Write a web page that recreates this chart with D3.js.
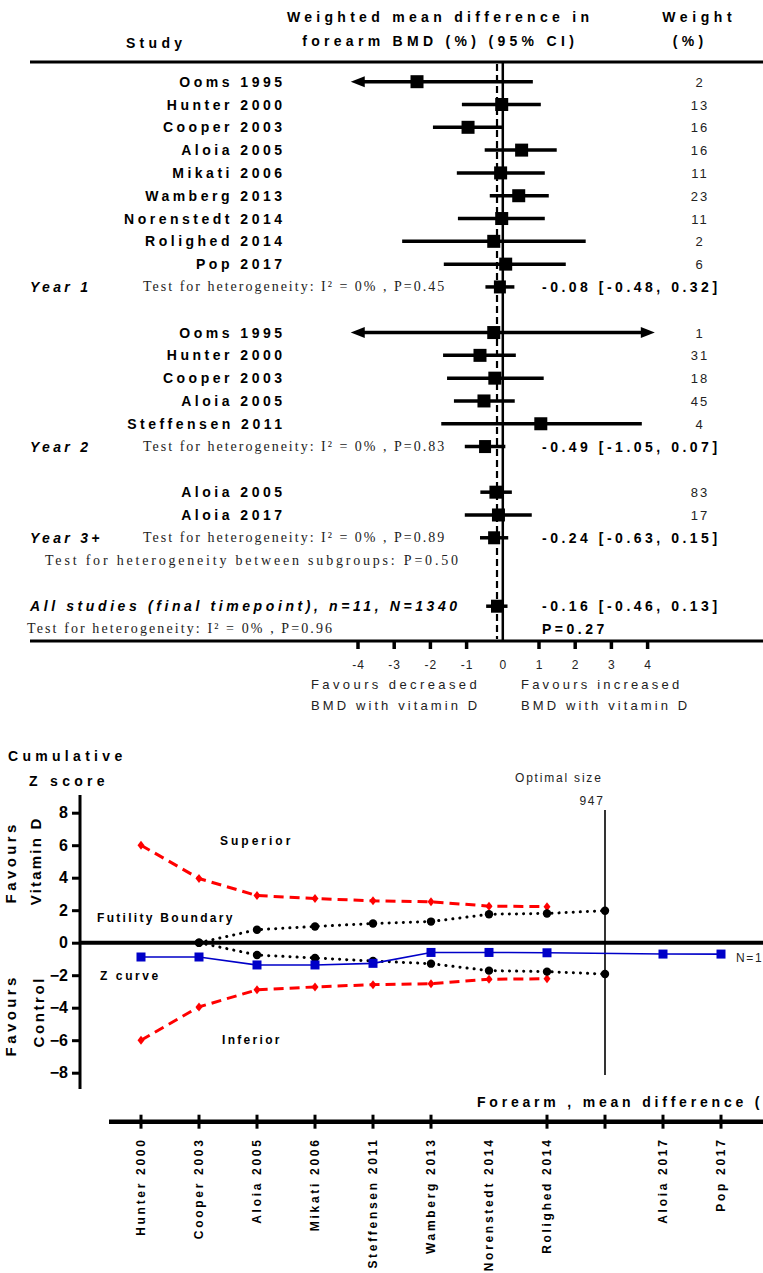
<!DOCTYPE html>
<html>
<head>
<meta charset="utf-8">
<script src="https://cdn.jsdelivr.net/npm/d3@7"></script>
<style>
  body { margin: 0; background: #fff; }
  svg { display: block; }
</style>
</head>
<body>
<script>
// ---------- Forest plot data: forearm BMD weighted mean difference (%) ----------
const studyNames   = ["Ooms 1995", "Hunter 2000", "Cooper 2003", "Aloia 2005", "Mikati 2006",
                      "Wamberg 2013", "Norenstedt 2014", "Rolighed 2014", "Pop 2017",
                      "Ooms 1995", "Hunter 2000", "Cooper 2003", "Aloia 2005", "Steffensen 2011",
                      "Aloia 2005", "Aloia 2017"];
const studyRows    = [0, 1, 2, 3, 4, 5, 6, 7, 8, 11, 12, 13, 14, 15, 18, 19];
const studyMeans   = [-2.37, -0.03, -0.96, 0.52, -0.06, 0.44, -0.03, -0.25, 0.08,
                      -0.25, -0.63, -0.22, -0.52, 1.05, -0.19, -0.12];
const studyLower   = [-6.5, -1.13, -1.93, -0.50, -1.27, -0.36, -1.24, -2.78, -1.63,
                      -6.2, -1.65, -1.54, -1.35, -1.70, -0.62, -1.05];
const studyUpper   = [0.83, 1.05, 0.00, 1.49, 1.16, 1.27, 1.16, 2.29, 1.74,
                      6.4, 0.36, 1.13, 0.33, 3.84, 0.25, 0.80];
const studyWeights = ["2", "13", "16", "16", "11", "23", "11", "2", "6",
                      "1", "31", "18", "45", "4", "83", "17"];

const groupLabels  = ["Year 1", "Year 2", "Year 3+", "All studies (final timepoint), n=11, N=1340"];
const groupRows    = [9, 16, 20, 23];
const groupMeans   = [-0.08, -0.49, -0.24, -0.16];
const groupLower   = [-0.48, -1.05, -0.63, -0.46];
const groupUpper   = [0.32, 0.07, 0.15, 0.13];
const groupHetero  = ["Test for heterogeneity: I\u00B2 = 0% , P=0.45",
                      "Test for heterogeneity: I\u00B2 = 0% , P=0.83",
                      "Test for heterogeneity: I\u00B2 = 0% , P=0.89"];
const subgroupTest = "Test for heterogeneity between subgroups: P=0.50";
const overallTest  = "Test for heterogeneity: I\u00B2 = 0% , P=0.96";
const overallP     = "P=0.27";
const forestTicks  = [-4, -3, -2, -1, 0, 1, 2, 3, 4];

// ---------- Trial sequential analysis data: cumulative Z score ----------
const tsaLabels    = ["Hunter 2000", "Cooper 2003", "Aloia 2005", "Mikati 2006", "Steffensen 2011",
                      "Wamberg 2013", "Norenstedt 2014", "Rolighed 2014", "", "Aloia 2017", "Pop 2017"];
const tsaTicked    = [true, true, true, true, true, true, false, true, true, true, true];
const zCurve       = [-0.88, -0.88, -1.37, -1.37, -1.27, -0.60, -0.60, -0.62, null, -0.70, -0.70];
const upperBound   = [6.0, 3.95, 2.9, 2.72, 2.58, 2.52, 2.25, 2.22];
const lowerBound   = [-6.0, -3.95, -2.9, -2.72, -2.58, -2.52, -2.25, -2.22];
const futilityIdx  = [1, 2, 3, 4, 5, 6, 7, 8];
const futilityUp   = [0, 0.8, 1.0, 1.18, 1.3, 1.75, 1.8, 1.97];
const futilityLow  = [0, -0.76, -0.94, -1.13, -1.29, -1.72, -1.78, -1.93];
const optimalIdx   = 8;
const optimalSize  = "947";
const zTicks       = [-8, -6, -4, -2, 0, 2, 4, 6, 8];

// ---------- Drawing ----------
const W = 763, H = 1273;
const SANS = "'Liberation Sans', Arial, sans-serif";
const SERIF = "'Liberation Serif', 'Times New Roman', serif";

const svg = d3.select("body").append("svg")
  .attr("width", W).attr("height", H)
  .attr("viewBox", `0 0 ${W} ${H}`);
svg.append("rect").attr("width", W).attr("height", H).attr("fill", "#fff");

// text helper that keeps letter-spaced text aligned to its anchor
function label(g, x, y, s, o = {}) {
  const size = o.size || 14, ls = o.ls || 0, anchor = o.anchor || "start";
  let dx = 0;
  if (anchor === "end") dx = ls;
  if (anchor === "middle") dx = ls / 2;
  return g.append("text")
    .attr("x", x + dx).attr("y", y)
    .attr("text-anchor", anchor)
    .attr("font-family", o.family || SANS)
    .attr("font-size", size)
    .attr("font-weight", o.weight || "normal")
    .attr("font-style", o.style || "normal")
    .attr("letter-spacing", ls)
    .attr("fill", o.fill || "#000")
    .text(s);
}

// ===== Forest plot =====
const fp = svg.append("g");
const fx = d3.scaleLinear().domain([-4, 4]).range([358, 647.6]);
const fy = d3.scaleLinear().domain([0, 24]).range([81.7, 629]);
const clipLo = -4.2, clipHi = 4.2;
const topLineY = 62, bottomLineY = 641;

// headers
label(fp, 438, 22, "Weighted mean difference in", {weight: "bold", ls: 4.3, anchor: "middle"});
label(fp, 438, 46, "forearm BMD (%)  (95% CI)", {weight: "bold", ls: 4.3, anchor: "middle"});
label(fp, 154, 48, "Study", {weight: "bold", ls: 4.3, anchor: "middle"});
label(fp, 697, 22, "Weight", {weight: "bold", ls: 4.6, anchor: "middle"});
label(fp, 688, 46, "(%)", {weight: "bold", ls: 4.3, anchor: "middle"});

// frame lines
fp.append("line").attr("x1", 30).attr("x2", W).attr("y1", topLineY).attr("y2", topLineY)
  .attr("stroke", "#000").attr("stroke-width", 3);
fp.append("line").attr("x1", 30).attr("x2", W).attr("y1", bottomLineY).attr("y2", bottomLineY)
  .attr("stroke", "#000").attr("stroke-width", 3);

// line of no effect and overall estimate
fp.append("line").attr("x1", fx(0)).attr("x2", fx(0)).attr("y1", topLineY).attr("y2", bottomLineY)
  .attr("stroke", "#000").attr("stroke-width", 2.5);
fp.append("line").attr("x1", fx(groupMeans[3])).attr("x2", fx(groupMeans[3]))
  .attr("y1", topLineY + 2).attr("y2", bottomLineY - 2)
  .attr("stroke", "#000").attr("stroke-width", 2.2).attr("stroke-dasharray", "7,4");

// axis ticks (no tick at zero) and labels
fp.selectAll(".ftick").data(forestTicks.filter(d => d !== 0)).join("line")
  .attr("x1", d => fx(d)).attr("x2", d => fx(d))
  .attr("y1", bottomLineY).attr("y2", bottomLineY + 8)
  .attr("stroke", "#000").attr("stroke-width", 3.5);
forestTicks.forEach(t => label(fp, fx(t), 669, String(t), {size: 12, ls: 1, anchor: "middle", fill: "#222"}));
label(fp, 311, 689, "Favours decreased", {size: 13, ls: 3.4, fill: "#222"});
label(fp, 311, 710, "BMD with vitamin D", {size: 13, ls: 3.1, fill: "#222"});
label(fp, 521, 689, "Favours increased", {size: 13, ls: 3.2, fill: "#222"});
label(fp, 521, 710, "BMD with vitamin D", {size: 13, ls: 3.1, fill: "#222"});

// individual studies
const studies = studyNames.map((n, i) => ({
  name: n, row: studyRows[i], m: studyMeans[i], lo: studyLower[i], hi: studyUpper[i], w: studyWeights[i]
}));
studies.forEach(d => {
  const y = fy(d.row);
  label(fp, 282, y + 5, d.name, {weight: "bold", ls: 3.5, anchor: "end"});
  label(fp, 699, y + 5, d.w, {size: 13, ls: 2, anchor: "middle", fill: "#222"});
  const lo = Math.max(d.lo, clipLo), hi = Math.min(d.hi, clipHi);
  const x1 = fx(lo) + (d.lo < clipLo ? 10 : 0);
  const x2 = fx(hi) - (d.hi > clipHi ? 10 : 0);
  fp.append("line").attr("x1", x1).attr("x2", x2).attr("y1", y).attr("y2", y)
    .attr("stroke", "#000").attr("stroke-width", 3.5);
  if (d.lo < clipLo) {
    const t = fx(clipLo);
    fp.append("path").attr("d", `M${t},${y}L${t + 14},${y - 5.5}L${t + 14},${y + 5.5}Z`).attr("fill", "#000");
  }
  if (d.hi > clipHi) {
    const t = fx(clipHi);
    fp.append("path").attr("d", `M${t},${y}L${t - 14},${y - 5.5}L${t - 14},${y + 5.5}Z`).attr("fill", "#000");
  }
  fp.append("rect").attr("x", fx(d.m) - 6.5).attr("y", y - 6.5)
    .attr("width", 13).attr("height", 13).attr("fill", "#000");
});

// subgroup and overall summaries
groupLabels.forEach((g, i) => {
  const y = fy(groupRows[i]);
  label(fp, 30, y + 5, g, {weight: "bold", style: "italic", ls: i === 3 ? 3.6 : 3.3});
  if (i < 3) label(fp, 143, y + 4, groupHetero[i], {family: SERIF, size: 14, ls: 2.0, fill: "#222"});
  const txt = `${groupMeans[i].toFixed(2)} [${groupLower[i].toFixed(2)}, ${groupUpper[i].toFixed(2)}]`;
  label(fp, 542, y + 5, txt, {weight: "bold", ls: 3.5});
  fp.append("line").attr("x1", fx(groupLower[i])).attr("x2", fx(groupUpper[i]))
    .attr("y1", y).attr("y2", y).attr("stroke", "#000").attr("stroke-width", 3.5);
  fp.append("rect").attr("x", fx(groupMeans[i]) - 6).attr("y", y - 6.5)
    .attr("width", 12).attr("height", 13).attr("fill", "#000");
});
label(fp, 45, fy(21) + 4, subgroupTest, {family: SERIF, size: 14, ls: 2.8, fill: "#222"});
label(fp, 27, fy(24) + 4, overallTest, {family: SERIF, size: 14, ls: 2.1, fill: "#222"});
label(fp, 542, fy(24) + 5, overallP, {weight: "bold", ls: 3.5});

// ===== Cumulative Z-score chart =====
const zc = svg.append("g");
const zx = d3.scaleLinear().domain([0, 10]).range([141, 721]);
const zy = d3.scaleLinear().domain([-8, 8]).range([1072.7, 812.7]);
const axisX = 80;

label(zc, 8, 761, "Cumulative", {weight: "bold", ls: 4.3});
label(zc, 29, 786, "Z score", {weight: "bold", ls: 4.3});

// y axis
const yAxis = zc.append("g").attr("transform", `translate(${axisX},0)`)
  .call(d3.axisLeft(zy).tickValues(zTicks).tickSize(8).tickPadding(4).tickFormat(d3.format("d")));
yAxis.select(".domain").remove();
yAxis.selectAll(".tick line").attr("stroke", "#000").attr("stroke-width", 3);
yAxis.selectAll(".tick text").attr("font-family", SANS).attr("font-size", 16)
  .attr("font-weight", "bold").attr("fill", "#000");
zc.append("line").attr("x1", axisX).attr("x2", axisX).attr("y1", 795).attr("y2", 1089)
  .attr("stroke", "#000").attr("stroke-width", 3);
zc.append("line").attr("x1", axisX).attr("x2", W).attr("y1", zy(0)).attr("y2", zy(0))
  .attr("stroke", "#000").attr("stroke-width", 4);

// rotated side labels
function vlabel(cx, cy, s, ls) {
  zc.append("text").attr("transform", `translate(${cx},${cy}) rotate(-90)`)
    .attr("x", ls / 2).attr("dy", "0.35em").attr("text-anchor", "middle")
    .attr("font-family", SANS).attr("font-size", 15).attr("font-weight", "bold")
    .attr("letter-spacing", ls).text(s);
}
vlabel(11, 864, "Favours", 3.4);
vlabel(36, 862, "Vitamin D", 2.2);
vlabel(11, 1017, "Favours", 3.4);
vlabel(39, 1013, "Control", 2.6);

// optimal information size
zc.append("line").attr("x1", zx(optimalIdx)).attr("x2", zx(optimalIdx)).attr("y1", 810).attr("y2", 1075)
  .attr("stroke", "#000").attr("stroke-width", 1.6);
label(zc, 515, 782, "Optimal size", {size: 12, ls: 1.8, fill: "#222"});
label(zc, zx(optimalIdx) - 2, 805, optimalSize, {size: 12, ls: 1.8, anchor: "end", fill: "#222"});

// monitoring boundaries (red dashed)
const line = d3.line().x(d => zx(d[0])).y(d => zy(d[1]));
[upperBound, lowerBound].forEach(b => {
  const pts = b.map((v, i) => [i, v]);
  zc.append("path").attr("d", line(pts)).attr("fill", "none")
    .attr("stroke", "#ff0000").attr("stroke-width", 3).attr("stroke-dasharray", "10,6");
  zc.selectAll(null).data(pts).join("path")
    .attr("transform", d => `translate(${zx(d[0])},${zy(d[1])})`)
    .attr("d", "M0,-4.5L3.5,0L0,4.5L-3.5,0Z").attr("fill", "#ff0000");
});

// futility boundaries (black dotted)
[futilityUp, futilityLow].forEach(b => {
  const pts = b.map((v, i) => [futilityIdx[i], v]);
  zc.append("path").attr("d", line(pts)).attr("fill", "none")
    .attr("stroke", "#000").attr("stroke-width", 3).attr("stroke-linecap", "round")
    .attr("stroke-dasharray", "0.1,7");
  zc.selectAll(null).data(pts).join("circle")
    .attr("cx", d => zx(d[0])).attr("cy", d => zy(d[1])).attr("r", 4.2).attr("fill", "#000");
});

// cumulative Z curve (blue)
const zPts = zCurve.map((v, i) => [i, v]).filter(d => d[1] !== null);
zc.append("path").attr("d", line(zPts)).attr("fill", "none")
  .attr("stroke", "#0000c8").attr("stroke-width", 1.6);
zc.selectAll(null).data(zPts).join("rect")
  .attr("x", d => zx(d[0]) - 4.5).attr("y", d => zy(d[1]) - 4.5)
  .attr("width", 9).attr("height", 9).attr("fill", "#0000c8");

// region annotations
label(zc, 220, 845, "Superior", {size: 12, weight: "bold", ls: 3});
label(zc, 97, 922, "Futility Boundary", {size: 12, weight: "bold", ls: 2.3});
label(zc, 100, 980, "Z curve", {size: 12, weight: "bold", ls: 2.6});
label(zc, 222, 1044, "Inferior", {size: 12, weight: "bold", ls: 2.3});
label(zc, 736, 962, "N=1340", {size: 12, ls: 1.7, fill: "#222"});

// x axis with study order
const xAxisY = 1121.7;
label(zc, 477, 1107, "Forearm , mean difference (%)", {weight: "bold", ls: 3.8});
zc.append("line").attr("x1", 109).attr("x2", W).attr("y1", xAxisY).attr("y2", xAxisY)
  .attr("stroke", "#000").attr("stroke-width", 4.5);
zc.selectAll(null).data(tsaLabels.map((s, i) => ({s, i})).filter(d => tsaTicked[d.i])).join("line")
  .attr("x1", d => zx(d.i)).attr("x2", d => zx(d.i))
  .attr("y1", xAxisY - 7).attr("y2", xAxisY + 7)
  .attr("stroke", "#000").attr("stroke-width", 3);
zc.selectAll(null).data(tsaLabels.map((s, i) => ({s, i})).filter(d => d.s)).join("text")
  .attr("transform", d => `translate(${zx(d.i)},1140) rotate(-90)`)
  .attr("x", 2.6).attr("dy", "0.35em").attr("text-anchor", "end")
  .attr("font-family", SANS).attr("font-size", 12).attr("font-weight", "bold")
  .attr("letter-spacing", 2.7).text(d => d.s);
</script>
</body>
</html>
